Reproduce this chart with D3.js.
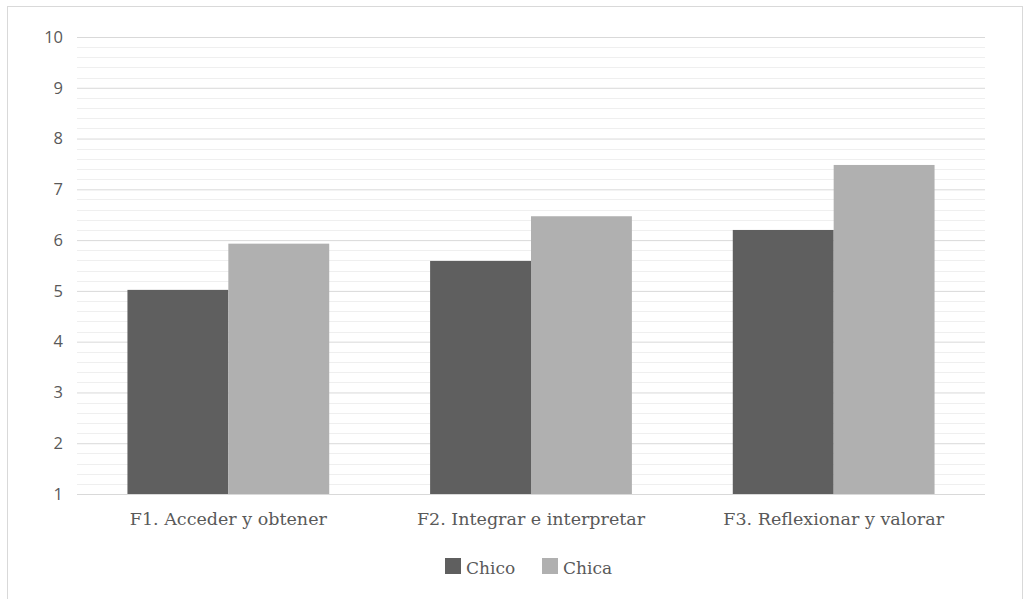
<!DOCTYPE html>
<html><head><meta charset="utf-8">
<script src="https://cdn.jsdelivr.net/npm/d3@7"></script>
<style>body{margin:0;background:#fff}svg{display:block}</style>
</head><body>
<svg id="c" width="1025" height="599"></svg>
<script>
const categories = ["F1. Acceder y obtener", "F2. Integrar e interpretar", "F3. Reflexionar y valorar"];
const seriesNames = ["Chico", "Chica"];
const chico = [5.02, 5.59, 6.20];
const chica = [5.93, 6.47, 7.48];
const yTicks = [1, 2, 3, 4, 5, 6, 7, 8, 9, 10];
const colors = ["#5f5f5f", "#b0b0b0"];

(function () {
const svg = d3.select("#c");
svg.append("rect").attr("x", 7.5).attr("y", 6.5).attr("width", 1015).attr("height", 600)
  .attr("fill", "#fff").attr("stroke", "#d9d9d9");

const mLeft = 77, mRight = 985, mTop = 37, mBottom = 494;
const x = d3.scaleBand().domain(categories).range([mLeft, mRight]).paddingInner(1/3).paddingOuter(1/6);
const xs = d3.scaleBand().domain(seriesNames).range([0, x.bandwidth()]);
const y = d3.scaleLinear().domain([1, 10]).range([mBottom, mTop]);

// minor grid
const minor = d3.range(1, 10.001, 0.2).filter(v => Math.abs(v - Math.round(v)) > 0.01);
svg.append("g").selectAll("line").data(minor).join("line")
  .attr("x1", mLeft).attr("x2", mRight)
  .attr("y1", d => Math.round(y(d)) + 0.5).attr("y2", d => Math.round(y(d)) + 0.5)
  .attr("stroke", "#efefef").attr("stroke-width", 1);

// major grid via axis
const gy = svg.append("g").attr("transform", `translate(${mLeft},0)`)
  .call(d3.axisLeft(y).tickValues(yTicks).tickSize(-(mRight - mLeft)).tickPadding(14).tickFormat(d3.format("d")));
gy.select(".domain").remove();
gy.selectAll(".tick line").attr("stroke", "#d9d9d9");
gy.selectAll(".tick text").attr("fill", "#595959").attr("font-family", "'Open Sans', sans-serif").attr("font-size", 16.5);

const data = categories.map((c, i) => ({c, vals: [chico[i], chica[i]]}));
const g = svg.append("g");
data.forEach(d => {
  d.vals.forEach((v, j) => {
    g.append("rect")
      .attr("x", x(d.c) + xs(seriesNames[j]))
      .attr("y", y(v))
      .attr("width", xs.bandwidth())
      .attr("height", y(1) - y(v))
      .attr("fill", colors[j]);
  });
});

const gx = svg.append("g").attr("transform", `translate(0,${mBottom})`)
  .call(d3.axisBottom(x).tickSize(0).tickPadding(19));
gx.select(".domain").remove();
gx.selectAll(".tick text").attr("fill", "#595959").attr("font-family", "'DejaVu Serif', serif")
  .attr("font-size", 17.5);

// legend
const lg = svg.append("g");
const lx = [445, 542];
seriesNames.forEach((s, i) => {
  lg.append("rect").attr("x", lx[i]).attr("y", 558).attr("width", 16).attr("height", 16).attr("fill", colors[i]);
  lg.append("text").attr("x", lx[i] + 21).attr("y", 574).text(s)
    .attr("fill", "#595959").attr("font-family", "'DejaVu Serif', serif").attr("font-size", 17);
});
})();
</script>
</body></html>
